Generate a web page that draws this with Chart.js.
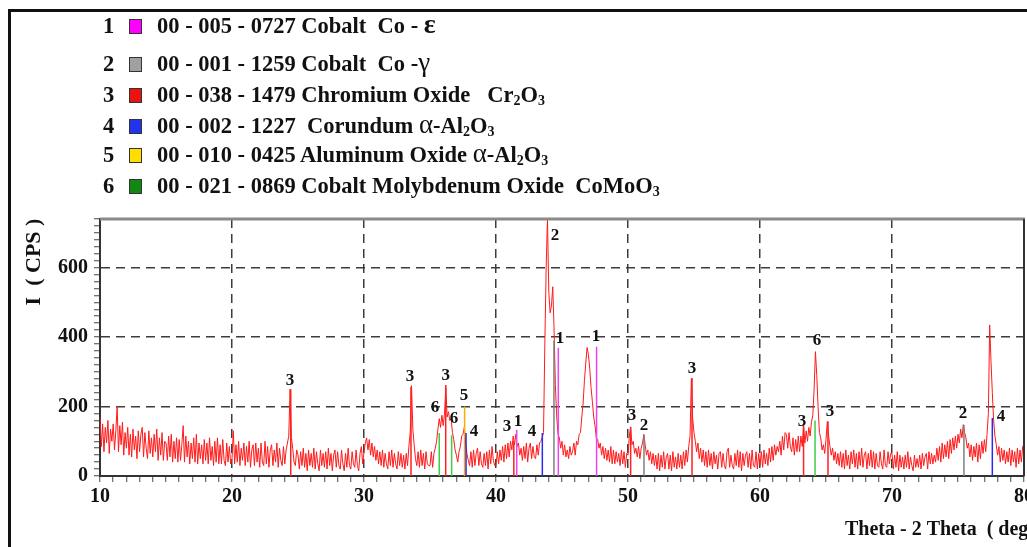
<!DOCTYPE html>
<html>
<head>
<meta charset="utf-8">
<title>XRD pattern</title>
<script src="https://cdn.jsdelivr.net/npm/chart.js@4.4.1/dist/chart.umd.min.js"></script>
<style>
  html, body { margin: 0; padding: 0; background: #fff; }
  #wrap { position: relative; width: 1027px; height: 547px; overflow: hidden; background: #fff; }
  #frame { position: absolute; left: 8px; top: 9px; width: 1100px; height: 600px; border: 3px solid #111; }
  #chart { position: absolute; left: 0; top: 0; width: 1027px; height: 547px; }
  #legend { position: absolute; left: 0; top: 0; font: bold 22.5px "Liberation Serif", "Times New Roman", serif; color: #111; }
  .row { position: absolute; left: 103px; height: 30px; line-height: 30px; white-space: pre; }
  .num { position: absolute; left: 0; }
  .box { position: absolute; left: 26px; top: 8px; width: 11px; height: 13px; border: 1px solid #333; }
  .txt { position: absolute; left: 54px; }
  .txt sub { font-size: 14px; vertical-align: -3px; line-height: 0; }
  .gr { font-weight: normal; font-size: 27px; line-height: 0; }
  .ep { font-size: 28px; line-height: 0; }
</style>
</head>
<body>
<div id="wrap">
  <div id="frame"></div>
  <canvas id="chart" width="1027" height="547"></canvas>
  <div id="legend"></div>
</div>
<script>
// PHASES (legend)
const phaseNums = [1, 2, 3, 4, 5, 6];
const phaseLabels = [
  '00 - 005 - 0727 Cobalt  Co - ε',
  '00 - 001 - 1259 Cobalt  Co -γ',
  '00 - 038 - 1479 Chromium Oxide   Cr2O3',
  '00 - 002 - 1227  Corundum α-Al2O3',
  '00 - 010 - 0425 Aluminum Oxide α-Al2O3',
  '00 - 021 - 0869 Cobalt Molybdenum Oxide  CoMoO3'
];
const phaseBoxColors = ['#ff00ff', '#a0a0a0', '#ee1111', '#2233ee', '#ffdd00', '#118811'];
const stickColors = ['#ee44ee', '#808080', '#ff2020', '#2a2aee', '#ffaa00', '#44cc44'];

// MEASURED PATTERN, 2theta step 0.1 deg, one array per 5 deg
const STEP = 0.1;
const i10 = [170,85,150,70,140,95,160,65,135,100, 150,75,130,200,70,145,90,155,60,125,
  80,140,60,120,55,135,75,115,50,130, 70,120,140,55,125,80,50,130,65,110, 55,120,70,135,45,110,60,125,45,100];
const i15 = [95,45,115,55,120,40,100,50,110,40, 105,45,90,145,40,115,55,100,35,95,
  50,110,40,120,35,95,50,90,35,105, 45,95,35,110,45,85,30,100,40,110, 35,90,35,105,45,30,95,40,85,35];
const i20 = [50,130,35,90,40,100,30,80,45,95, 30,85,40,100,25,75,90,30,95,40,
  80,25,95,40,30,100,35,85,25,75, 90,30,75,40,95,25,80,45,30,85, 35,75,95,115,250,110,80,40,30,75];
const i25 = [60,20,70,30,80,25,65,15,75,30, 65,25,80,20,70,35,15,75,30,65,
  25,70,20,80,30,65,15,60,75,25, 70,30,20,75,35,15,65,25,80,30, 20,70,35,25,75,30,15,65,85,35];
const i30 = [70,95,110,75,105,60,95,55,85,45, 75,35,70,30,75,25,65,35,20,70,
  30,75,25,65,35,20,70,30,65,25, 60,20,65,30,85,125,260,135,90,50, 30,70,25,75,30,65,20,70,35,30];
const i35 = [30,70,25,65,80,100,135,165,140,175, 145,180,255,170,185,160,165,125,105,75,
  60,40,70,85,115,120,140,95,65,45, 30,70,25,75,30,65,80,30,70,35, 25,65,30,70,20,75,35,85,45,30];
const i40 = [30,70,35,75,45,85,40,90,50,95, 55,100,75,115,90,120,85,95,60,80,
  45,85,50,95,40,80,95,50,85,55, 50,90,60,95,100,110,125,380,600,740, 530,470,490,545,420,260,170,120,110,80];
const i45 = [100,60,90,55,75,50,85,60,70,95, 60,100,90,120,125,170,210,275,325,370,
  350,310,255,215,170,145,110,105,80,95, 60,85,50,80,45,75,40,85,35,75, 35,70,40,65,30,75,35,70,25,65];
const i50 = [60,115,140,90,100,65,80,55,85,50, 80,95,120,90,60,75,45,70,35,65,
  30,60,20,65,15,60,25,70,20,55, 65,20,60,15,70,25,55,20,65,25, 60,20,70,30,75,40,85,115,280,165];
const i55 = [125,100,70,95,50,80,40,75,30,70, 25,75,30,65,20,70,35,60,20,65,
  70,25,65,30,20,70,80,25,60,30, 20,65,30,75,25,70,15,65,30,60, 70,25,65,20,75,30,25,70,20,65];
const i60 = [30,70,25,75,35,65,30,80,40,85, 45,90,60,85,70,100,60,115,75,125,
  120,80,125,85,70,110,60,105,70,115, 70,115,85,145,95,130,100,140,115,155, 175,250,358,290,200,125,110,75,90,65];
const i65 = [105,157,115,85,60,80,45,70,35,65, 30,70,25,65,20,75,30,60,20,70,
  35,75,25,65,20,70,30,80,25,60, 70,20,65,30,75,25,70,20,65,30, 25,70,35,20,75,30,25,70,35,65];
const i70 = [65,20,60,25,70,15,60,25,55,20, 60,25,70,20,55,30,15,60,25,50,
  25,60,20,65,30,55,65,20,70,35, 65,35,60,40,80,45,85,40,95,50, 90,55,100,50,105,65,110,75,115,80];
const i75 = [120,95,135,110,148,125,110,80,95,55, 90,45,85,55,95,40,90,50,100,65,
  105,70,120,180,435,330,240,160,115,90, 60,85,40,80,45,75,35,70,40,80, 30,75,40,70,25,80,35,75,40,85, 90];
const segStart = [10, 15, 20, 25, 30, 35, 40, 45, 50, 55, 60, 65, 70, 75];
const segValues = [i10, i15, i20, i25, i30, i35, i40, i45, i50, i55, i60, i65, i70, i75];

// REFERENCE STICKS (phase, 2theta, height)
const stickPhase  = [3, 3, 6, 3, 6, 5, 4, 3, 1, 4, 2, 1, 1, 3, 2, 3, 3, 6, 3, 2, 4];
const stickAngle  = [24.45, 33.56, 35.7, 36.19, 36.64, 37.62, 37.73, 41.35, 41.57, 43.51, 44.39,
  44.72, 47.62, 50.2, 51.21, 54.85, 63.3, 64.17, 65.15, 75.45, 77.6];
const stickHeight = [250, 257, 124, 262, 117, 200, 124, 100, 133, 124, 390, 369, 372, 142, 118, 282, 145, 160, 157, 147, 167];

// PEAK TAGS (text, 2theta, counts)
const tagText  = ['3','3','6','3','6','5','4','3','1','4','2','1','1','3','2','3','3','6','3','2','4'];
const tagAngle = [24.39, 33.48, 35.38, 36.2, 36.82, 37.58, 38.33, 40.83, 41.67, 42.73, 44.47, 44.85, 47.58,
  50.3, 51.21, 54.85, 63.18, 64.32, 65.3, 75.38, 78.26];
const tagCount = [274, 285, 196, 288, 164, 231, 127, 141, 158, 127, 692, 395, 400, 173, 144, 308, 158, 389, 184, 179, 170];

// LEGEND
function fmt(s) {
  return s.replace(/([A-Za-z])(\d)/g, '$1<sub>$2</sub>')
    .replace(/([αγ])/g, '<span class="gr">$1</span>')
    .replace(/ε/g, '<span class="ep">ε</span>');
}
const legendRowY = [26, 64, 95, 126, 155, 186];
const legend = document.getElementById('legend');
phaseNums.forEach((n, i) => {
  const row = document.createElement('div');
  row.className = 'row';
  row.style.top = (legendRowY[i] - 15) + 'px';
  row.innerHTML = `<span class="num">${n}</span><span class="box" style="background:${phaseBoxColors[i]}"></span><span class="txt">${fmt(phaseLabels[i])}</span>`;
  legend.appendChild(row);
});

// DATASETS
const pattern = [];
segStart.forEach((s, k) => segValues[k].forEach((v, i) => pattern.push({ x: +(s + i * STEP).toFixed(2), y: v })));

const stickSets = phaseNums.map((p, k) => {
  const pts = [];
  stickPhase.forEach((ph, i) => {
    if (ph === p) pts.push({ x: stickAngle[i], y: 0 }, { x: stickAngle[i], y: stickHeight[i] }, { x: stickAngle[i], y: null });
  });
  return { data: pts, borderColor: stickColors[k], borderWidth: 1.5, pointRadius: 0, spanGaps: false, order: 0 };
});

const SERIF = '"Liberation Serif", "Times New Roman", serif';
Chart.defaults.font.family = SERIF;
Chart.defaults.color = '#111';

const extras = {
  id: 'extras',
  afterDraw(chart) {
    const { ctx, chartArea: a, scales: { x, y } } = chart;
    ctx.save();
    ctx.strokeStyle = '#8a8a8a'; ctx.lineWidth = 3;
    ctx.beginPath(); ctx.moveTo(a.left, a.top); ctx.lineTo(a.right + 1, a.top); ctx.stroke();
    ctx.strokeStyle = '#333'; ctx.lineWidth = 2;
    ctx.beginPath(); ctx.moveTo(a.right, a.top); ctx.lineTo(a.right, a.bottom); ctx.stroke();

    ctx.fillStyle = '#111';
    ctx.font = 'bold 17px ' + SERIF;
    ctx.textAlign = 'center'; ctx.textBaseline = 'middle';
    tagText.forEach((t, i) => ctx.fillText(t, x.getPixelForValue(tagAngle[i]), y.getPixelForValue(tagCount[i])));

    ctx.font = 'bold 22px ' + SERIF;
    ctx.translate(34, 262); ctx.rotate(-Math.PI / 2);
    ctx.fillText('I  ( CPS )', 0, 0);
    ctx.setTransform(1, 0, 0, 1, 0, 0);
    ctx.font = 'bold 20px ' + SERIF;
    ctx.textAlign = 'left';
    ctx.fillText('Theta - 2 Theta  ( deg )', 845, 530);
    ctx.restore();
  }
};

new Chart(document.getElementById('chart'), {
  type: 'line',
  data: {
    datasets: [
      ...stickSets,
      { data: pattern, borderColor: '#ff1a1a', borderWidth: 1, pointRadius: 0, tension: 0, order: 1 }
    ]
  },
  options: {
    responsive: false,
    animation: false,
    layout: { padding: { top: 219, right: 3, left: 0, bottom: 0 } },
    plugins: { legend: { display: false }, tooltip: { enabled: false } },
    scales: {
      x: {
        type: 'linear', min: 10, max: 80,
        afterFit(s) { s.height = 71; s.paddingLeft = 0; s.paddingRight = 0; },
        ticks: { stepSize: 1, autoSkip: false, maxRotation: 0, padding: 3, color: '#111',
          font: { size: 20, weight: 'bold' }, callback: v => (v % 10 === 0 ? v : '') },
        grid: {
          color: c => (c.tick && c.tick.value % 10 === 0 && c.tick.value > 10 && c.tick.value < 80) ? '#3c3c3c' : 'rgba(0,0,0,0)',
          lineWidth: 1.5, tickLength: 6, tickColor: '#444', tickWidth: 1
        },
        border: { color: '#333', width: 2, dash: [9, 6] }
      },
      y: {
        min: 0, max: 740,
        afterFit(s) { s.width = 100; s.paddingTop = 0; s.paddingBottom = 0; },
        ticks: { stepSize: 20, autoSkip: false, padding: 6, color: '#111',
          font: { size: 20, weight: 'bold' }, callback: v => (v % 200 === 0 ? v : '') },
        grid: {
          color: c => (c.tick && c.tick.value % 200 === 0 && c.tick.value > 0) ? '#3c3c3c' : 'rgba(0,0,0,0)',
          lineWidth: 1.5, tickLength: 6, tickColor: '#444', tickWidth: 1
        },
        border: { color: '#333', width: 2, dash: [9, 6] }
      }
    }
  },
  plugins: [extras]
});
</script>
</body>
</html>
